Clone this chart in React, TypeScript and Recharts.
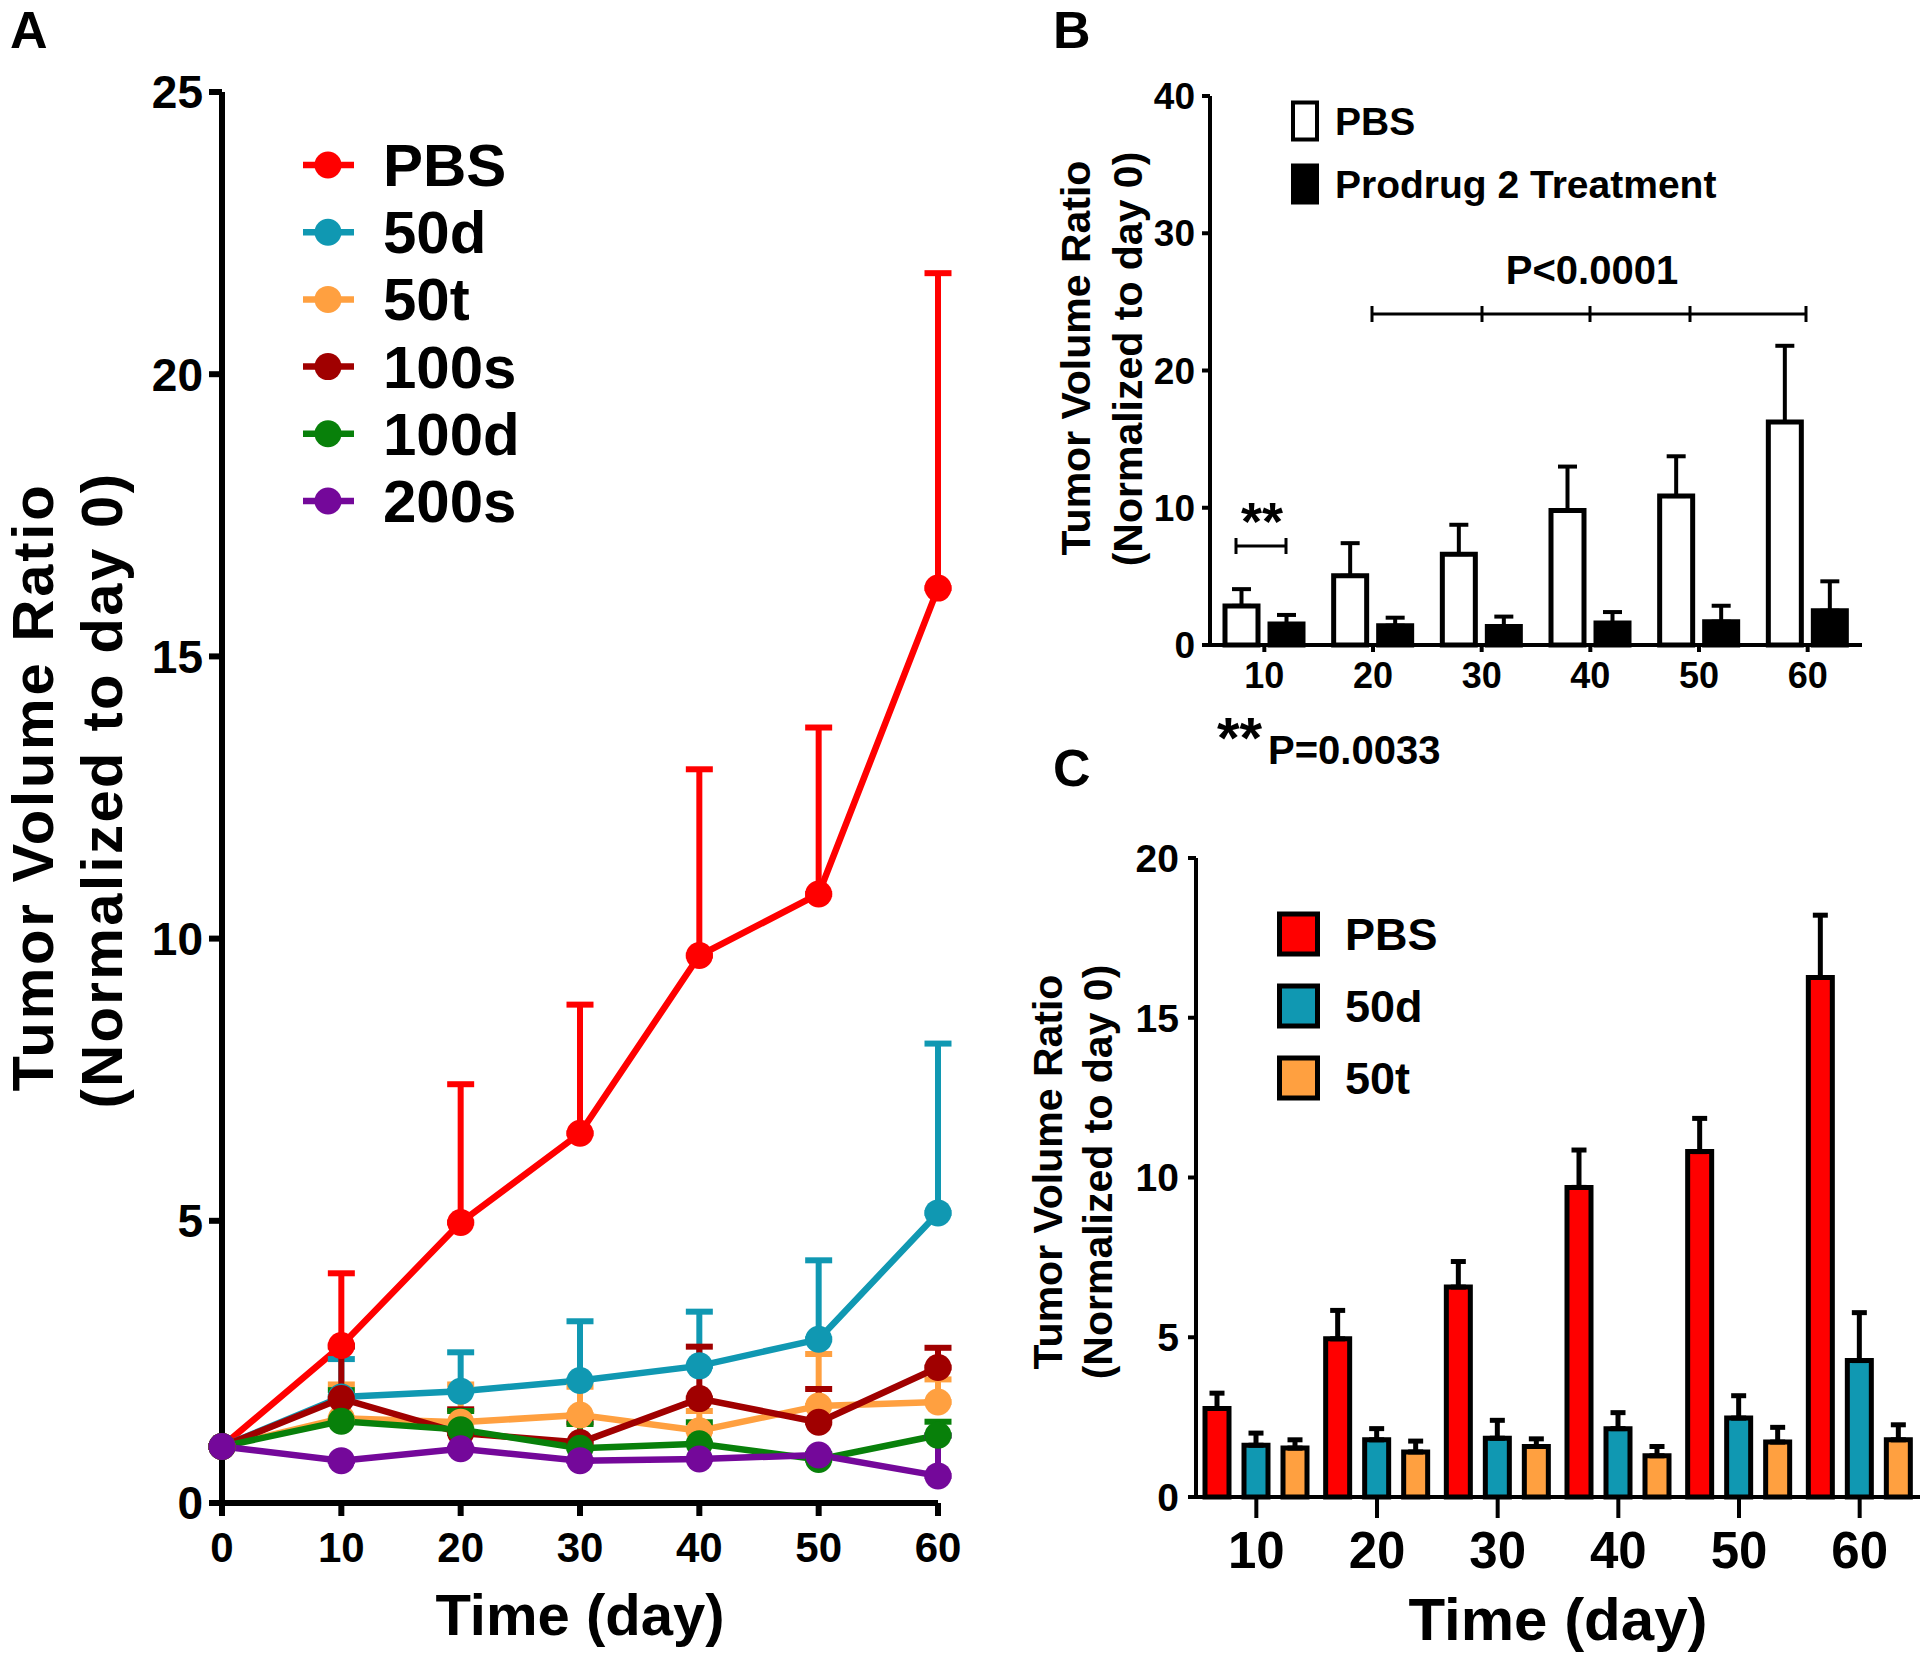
import React from 'react';
import { LineChart, Line, BarChart, Bar, XAxis, YAxis, ErrorBar, Legend } from 'recharts';

const FONT = '"Liberation Sans", Arial, Helvetica, sans-serif';

// Panel A: tumor volume ratio over time, all groups (mean and upper error)
const days = [0, 10, 20, 30, 40, 50, 60];
const pbsMean = [1, 2.79, 4.97, 6.55, 9.7, 10.79, 16.21];
const pbsErr = [0, 1.28, 2.45, 2.28, 3.3, 2.95, 5.58];
const d50Mean = [1, 1.88, 1.98, 2.17, 2.43, 2.9, 5.14];
const d50Err = [0, 0.67, 0.69, 1.05, 0.96, 1.4, 3.0];
const t50Mean = [1, 1.5, 1.43, 1.56, 1.28, 1.72, 1.79];
const t50Err = [0, 0.6, 0.67, 0.5, 0.35, 0.92, 0.4];
const s100Mean = [1, 1.85, 1.24, 1.07, 1.85, 1.43, 2.4];
const s100Err = [0, 0.92, 0.42, 0.36, 0.92, 0.59, 0.35];
const d100Mean = [1, 1.45, 1.3, 0.97, 1.05, 0.77, 1.2];
const d100Err = [0, 0.55, 0.33, 0.43, 0.38, 0.1, 0.24];
const s200Mean = [1, 0.75, 0.96, 0.75, 0.78, 0.85, 0.48];
const s200Err = [0, 0, 0, 0, 0, 0, 0.71];
const aYTicks = [0, 5, 10, 15, 20, 25];

// Panel B: PBS vs prodrug 2 treatment
const bDays = ['10', '20', '30', '40', '50', '60'];
const bPbsMean = [2.85, 5.04, 6.62, 9.8, 10.85, 16.25];
const bPbsErr = [1.22, 2.38, 2.14, 3.2, 2.9, 5.55];
const bTreatMean = [1.53, 1.41, 1.34, 1.6, 1.7, 2.5];
const bTreatErr = [0.66, 0.58, 0.73, 0.8, 1.16, 2.14];
const bYTicks = [0, 10, 20, 30, 40];

// Panel C: PBS, 50d, 50t
const cDays = ['10', '20', '30', '40', '50', '60'];
const cPbsMean = [2.77, 4.95, 6.57, 9.69, 10.81, 16.26];
const cPbsErr = [0.48, 0.89, 0.8, 1.17, 1.04, 1.95];
const c50dMean = [1.62, 1.79, 1.84, 2.14, 2.47, 4.27];
const c50dErr = [0.38, 0.35, 0.56, 0.5, 0.7, 1.5];
const c50tMean = [1.53, 1.41, 1.58, 1.29, 1.72, 1.79];
const c50tErr = [0.26, 0.34, 0.24, 0.29, 0.46, 0.47];
const cYTicks = [0, 5, 10, 15, 20];

const groupsA = [
  { key: 'pbs', name: 'PBS', color: '#FF0000', mean: pbsMean, err: pbsErr },
  { key: 'd50', name: '50d', color: '#1098B2', mean: d50Mean, err: d50Err },
  { key: 't50', name: '50t', color: '#FFA040', mean: t50Mean, err: t50Err },
  { key: 's100', name: '100s', color: '#A00000', mean: s100Mean, err: s100Err },
  { key: 'd100', name: '100d', color: '#08800A', mean: d100Mean, err: d100Err },
  { key: 's200', name: '200s', color: '#74089A', mean: s200Mean, err: s200Err },
];

const dataA = days.map((day, i) => {
  const row: Record<string, any> = { day };
  groupsA.forEach((g) => {
    row[g.key] = g.mean[i];
    row[g.key + 'Err'] = [0, g.err[i]];
  });
  return row;
});

const groupsB = [
  { key: 'pbs', name: 'PBS', fill: '#FFFFFF', mean: bPbsMean, err: bPbsErr },
  { key: 'treat', name: 'Prodrug 2 Treatment', fill: '#000000', mean: bTreatMean, err: bTreatErr },
];

const dataB = bDays.map((day, i) => {
  const row: Record<string, any> = { day };
  groupsB.forEach((g) => {
    row[g.key] = g.mean[i];
    row[g.key + 'Err'] = [0, g.err[i]];
  });
  return row;
});

const groupsC = [
  { key: 'pbs', name: 'PBS', fill: '#FF0000', mean: cPbsMean, err: cPbsErr },
  { key: 'd50', name: '50d', fill: '#1098B2', mean: c50dMean, err: c50dErr },
  { key: 't50', name: '50t', fill: '#FFA040', mean: c50tMean, err: c50tErr },
];

const dataC = cDays.map((day, i) => {
  const row: Record<string, any> = { day };
  groupsC.forEach((g) => {
    row[g.key] = g.mean[i];
    row[g.key + 'Err'] = [0, g.err[i]];
  });
  return row;
});

const tickStyle = (size: number) => ({
  fill: '#000',
  fontSize: size,
  fontWeight: 700,
  fontFamily: FONT,
});

const renderLegendA = () => (
  <svg width={240} height={420}>
    {groupsA.map((g, i) => {
      const cy = 35 + i * 67.2;
      return (
        <g key={g.key}>
          <line x1={3} x2={54} y1={cy} y2={cy} stroke={g.color} strokeWidth={6.5} />
          <circle cx={28} cy={cy} r={13.5} fill={g.color} />
          <text x={83} y={cy + 21} fontSize={60} fontWeight={700} fontFamily={FONT}>
            {g.name}
          </text>
        </g>
      );
    })}
  </svg>
);

const renderLegendB = () => (
  <svg width={520} height={130}>
    {groupsB.map((g, i) => {
      const cy = 26 + i * 63;
      return (
        <g key={g.key}>
          <rect x={2} y={cy - 18.5} width={24} height={37} fill={g.fill} stroke="#000" strokeWidth={4} />
          <text x={44} y={cy + 14} fontSize={39} fontWeight={700} fontFamily={FONT}>
            {g.name}
          </text>
        </g>
      );
    })}
  </svg>
);

const renderLegendC = () => (
  <svg width={220} height={210}>
    {groupsC.map((g, i) => {
      const cy = 24 + i * 72;
      return (
        <g key={g.key}>
          <rect x={2.5} y={cy - 20} width={38} height={40} fill={g.fill} stroke="#000" strokeWidth={5} />
          <text x={68} y={cy + 16} fontSize={45} fontWeight={700} fontFamily={FONT}>
            {g.name}
          </text>
        </g>
      );
    })}
  </svg>
);

function PanelA() {
  return (
    <LineChart width={980} height={1653} data={dataA} margin={{ top: 92, right: 42, bottom: 50, left: 122 }}>
      <XAxis
        dataKey="day"
        type="number"
        domain={[0, 60]}
        ticks={days}
        interval={0}
        height={100}
        axisLine={{ stroke: '#000', strokeWidth: 6 }}
        tickLine={{ stroke: '#000', strokeWidth: 6 }}
        tickSize={13}
        tickMargin={16}
        tick={tickStyle(42)}
      />
      <YAxis
        type="number"
        domain={[0, 25]}
        ticks={aYTicks}
        interval={0}
        width={100}
        axisLine={{ stroke: '#000', strokeWidth: 6 }}
        tickLine={{ stroke: '#000', strokeWidth: 6 }}
        tickSize={13}
        tickMargin={6}
        tick={tickStyle(46)}
      />
      {groupsA.map((g) => (
        <Line
          key={g.key}
          type="linear"
          dataKey={g.key}
          name={g.name}
          stroke={g.color}
          strokeWidth={6.5}
          dot={{ r: 13.5, fill: g.color, stroke: g.color, strokeWidth: 0 }}
          activeDot={false}
          isAnimationActive={false}
        >
          <ErrorBar dataKey={g.key + 'Err'} direction="y" width={13.5} strokeWidth={6} stroke={g.color} />
        </Line>
      ))}
      <Legend
        layout="vertical"
        verticalAlign="middle"
        align="center"
        wrapperStyle={{ left: 300, top: 130, width: 240, height: 420 }}
        content={renderLegendA}
      />
    </LineChart>
  );
}

function PanelB() {
  return (
    <BarChart
      width={880}
      height={700}
      data={dataB}
      margin={{ top: 96, right: 58, bottom: 10, left: 110 }}
      barSize={33}
      barGap={12}
    >
      <XAxis
        dataKey="day"
        interval={0}
        height={45}
        axisLine={{ stroke: '#000', strokeWidth: 4 }}
        tickLine={{ stroke: '#000', strokeWidth: 4 }}
        tickSize={7}
        tickMargin={10}
        tick={tickStyle(36)}
      />
      <YAxis
        type="number"
        domain={[0, 40]}
        ticks={bYTicks}
        interval={0}
        width={60}
        axisLine={{ stroke: '#000', strokeWidth: 4 }}
        tickLine={{ stroke: '#000', strokeWidth: 4 }}
        tickSize={8}
        tickMargin={7}
        tick={tickStyle(37)}
      />
      {groupsB.map((g) => (
        <Bar key={g.key} dataKey={g.key} name={g.name} fill={g.fill} stroke="#000" strokeWidth={5} isAnimationActive={false}>
          <ErrorBar dataKey={g.key + 'Err'} direction="y" width={9.5} strokeWidth={4} stroke="#000" />
        </Bar>
      ))}
      <Legend
        layout="vertical"
        verticalAlign="middle"
        align="center"
        wrapperStyle={{ left: 251, top: 95, width: 520, height: 130 }}
        content={renderLegendB}
      />
    </BarChart>
  );
}

function PanelC() {
  return (
    <BarChart
      width={880}
      height={893}
      data={dataC}
      margin={{ top: 98, right: 0, bottom: 56, left: 86 }}
      barSize={24}
      barGap={15}
    >
      <XAxis
        dataKey="day"
        interval={0}
        height={100}
        axisLine={{ stroke: '#000', strokeWidth: 4 }}
        tickLine={{ stroke: '#000', strokeWidth: 4 }}
        tickSize={21}
        tickMargin={14}
        tick={tickStyle(51)}
      />
      <YAxis
        type="number"
        domain={[0, 20]}
        ticks={cYTicks}
        interval={0}
        width={70}
        axisLine={{ stroke: '#000', strokeWidth: 4 }}
        tickLine={{ stroke: '#000', strokeWidth: 4 }}
        tickSize={8}
        tickMargin={9}
        tick={tickStyle(39)}
      />
      {groupsC.map((g) => (
        <Bar key={g.key} dataKey={g.key} name={g.name} fill={g.fill} stroke="#000" strokeWidth={5} isAnimationActive={false}>
          <ErrorBar dataKey={g.key + 'Err'} direction="y" width={7.5} strokeWidth={5} stroke="#000" />
        </Bar>
      ))}
      <Legend
        layout="vertical"
        verticalAlign="middle"
        align="center"
        wrapperStyle={{ left: 237, top: 150, width: 220, height: 210 }}
        content={renderLegendC}
      />
    </BarChart>
  );
}

const pTicksB = [1372, 1482, 1590, 1690, 1806];

function Annotations() {
  return (
    <svg
      width={1920}
      height={1653}
      style={{ position: 'absolute', left: 0, top: 0, pointerEvents: 'none' }}
      fontFamily={FONT}
      fontWeight={700}
      fill="#000"
    >
      <text x={10} y={48} fontSize={52}>A</text>
      <text x={1053} y={48} fontSize={52}>B</text>
      <text x={1053} y={786} fontSize={52}>C</text>

      <text transform="translate(53,787) rotate(-90)" textAnchor="middle" fontSize={58} letterSpacing={2.8}>
        Tumor Volume Ratio
      </text>
      <text transform="translate(122,790) rotate(-90)" textAnchor="middle" fontSize={58} letterSpacing={2.4}>
        (Normalized to day 0)
      </text>
      <text x={580} y={1635} textAnchor="middle" fontSize={58}>Time (day)</text>

      <text transform="translate(1090,358) rotate(-90)" textAnchor="middle" fontSize={41}>
        Tumor Volume Ratio
      </text>
      <text transform="translate(1142,359) rotate(-90)" textAnchor="middle" fontSize={41}>
        (Normalized to day 0)
      </text>

      <text x={1592} y={284} textAnchor="middle" fontSize={40}>P&lt;0.0001</text>
      <line x1={1372} x2={1806} y1={314} y2={314} stroke="#000" strokeWidth={3} />
      {pTicksB.map((x) => (
        <line key={x} x1={x} x2={x} y1={306} y2={322} stroke="#000" strokeWidth={3} />
      ))}
      <text x={1262} y={540} textAnchor="middle" fontSize={54}>**</text>
      <line x1={1236} x2={1286} y1={546} y2={546} stroke="#000" strokeWidth={3} />
      <line x1={1236} x2={1236} y1={538} y2={554} stroke="#000" strokeWidth={3} />
      <line x1={1286} x2={1286} y1={538} y2={554} stroke="#000" strokeWidth={3} />
      <text x={1217} y={758} fontSize={58}>**</text>
      <text x={1268} y={764} fontSize={40}>P=0.0033</text>

      <text transform="translate(1062,1172) rotate(-90)" textAnchor="middle" fontSize={41}>
        Tumor Volume Ratio
      </text>
      <text transform="translate(1112,1172) rotate(-90)" textAnchor="middle" fontSize={41}>
        (Normalized to day 0)
      </text>
      <text x={1558} y={1640} textAnchor="middle" fontSize={60}>Time (day)</text>
    </svg>
  );
}

export default function App() {
  return (
    <div
      style={{
        position: 'absolute',
        left: 0,
        top: 0,
        width: 1920,
        height: 1653,
        background: '#fff',
        fontFamily: FONT,
        overflow: 'hidden',
      }}
    >
      <div style={{ position: 'absolute', left: 0, top: 0 }}>
        <PanelA />
      </div>
      <div style={{ position: 'absolute', left: 1040, top: 0 }}>
        <PanelB />
      </div>
      <div style={{ position: 'absolute', left: 1040, top: 760 }}>
        <PanelC />
      </div>
      <Annotations />
    </div>
  );
}
